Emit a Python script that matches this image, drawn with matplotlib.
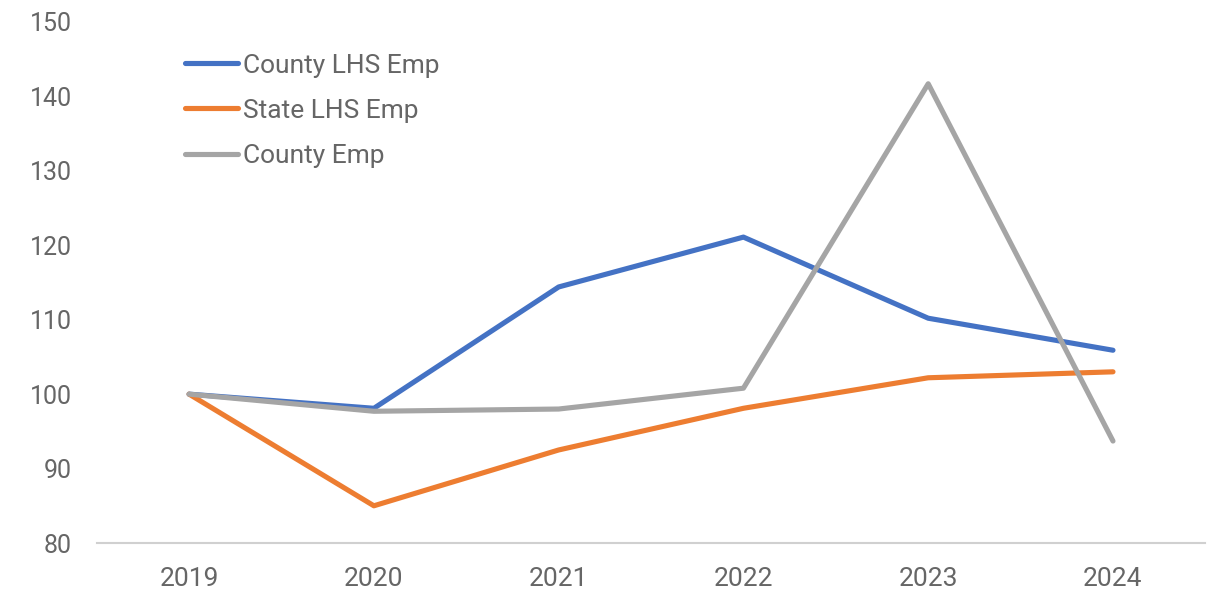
import matplotlib
matplotlib.use("Agg")
import matplotlib.pyplot as plt

years = ["2019", "2020", "2021", "2022", "2023", "2024"]
county_lhs = [100.0, 98.1, 114.4, 121.1, 110.2, 105.9]
state_lhs = [100.0, 85.0, 92.5, 98.1, 102.2, 103.0]
county_emp = [100.0, 97.7, 98.0, 100.8, 141.7, 93.7]
yticks = [80, 90, 100, 110, 120, 130, 140, 150]

plt.rcParams['font.family'] = ['Roboto', 'DejaVu Sans']
txt = '#666666'

fig = plt.figure(figsize=(12.09, 5.91), dpi=100)
ax = fig.add_axes([0.080, 0.0812, 0.917, 0.8816])
x = list(range(len(years)))
lw = 3.7
ax.plot(x, county_lhs, color='#4472C4', lw=lw, solid_capstyle='round', solid_joinstyle='round', label='County LHS Emp')
ax.plot(x, state_lhs, color='#ED7D31', lw=lw, solid_capstyle='round', solid_joinstyle='round', label='State LHS Emp')
ax.plot(x, county_emp, color='#A5A5A5', lw=lw, solid_capstyle='round', solid_joinstyle='round', label='County Emp')

ax.set_xlim(-0.5, len(years) - 0.5)
ax.set_ylim(80, 150)
ax.set_yticks(yticks)
ax.set_xticks(x)
ax.set_xticklabels(years)
for s in ['top', 'right', 'left']:
    ax.spines[s].set_visible(False)
ax.spines['bottom'].set_color('#D0D0D0')
ax.spines['bottom'].set_linewidth(1.5)
ax.tick_params(axis='y', length=0, labelsize=18, colors=txt, pad=18)
ax.tick_params(axis='x', length=0, labelsize=19, colors=txt, pad=17)

leg = ax.legend(loc='upper left', bbox_to_anchor=(0.058, 0.985), frameon=False,
                prop={'size': 19},
                handlelength=2.0, handletextpad=0.2, labelspacing=0.8)
for t in leg.get_texts():
    t.set_color(txt)

fig.savefig('out.png', dpi=100)
